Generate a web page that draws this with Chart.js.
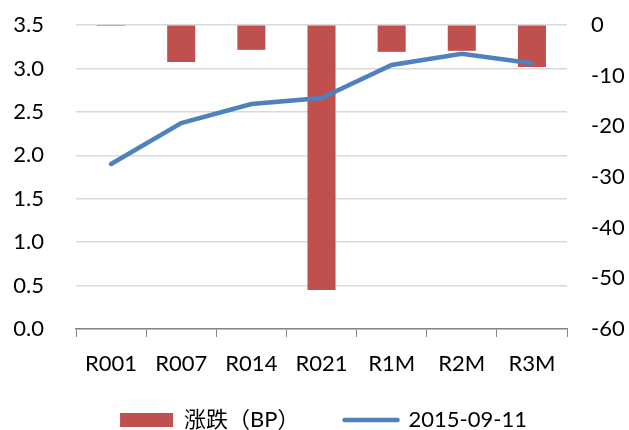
<!DOCTYPE html>
<html>
<head>
<meta charset="utf-8">
<script src="https://cdn.jsdelivr.net/npm/chart.js@4"></script>
<style>
  body { margin: 0; background: #fff; }
  #wrap { width: 629px; height: 430px; }
</style>
</head>
<body>
<div id="wrap"><canvas id="myChart" width="629" height="430"></canvas></div>
<script>
/* DATA */

const categories = ['R001', 'R007', 'R014', 'R021', 'R1M', 'R2M', 'R3M'];
const changeBP = [-0.2, -7.3, -4.9, -52.3, -5.3, -5.1, -8.3];
const rate20150911 = [1.90, 2.37, 2.59, 2.66, 3.04, 3.17, 3.06];
const leftTicks = [0, 0.5, 1, 1.5, 2, 2.5, 3, 3.5];
const rightTicks = [-60, -50, -40, -30, -20, -10, 0];

const FONT = "Lato, 'Noto Sans CJK SC', sans-serif";

/* NUDGE THE LEGEND: WIDE GAP BETWEEN ITEMS BUT SITTING CLOSE TO THE AXIS */

const legendNudge = {
  id: 'legendNudge',
  afterLayout(chart) {
    const lg = chart.legend;
    lg.top -= 13;
    lg.left += 9; lg.right += 9;
  }
};

/* CREATE CHART */

const ctx = document.getElementById('myChart').getContext('2d');
const myChart = new Chart(ctx, {
  type: 'bar',
  data: {
    labels: categories,
    datasets: [{
      label: '涨跌（BP）',
      data: changeBP,
      backgroundColor: '#C0504D',
      borderWidth: 0,
      yAxisID: 'yRight',
      categoryPercentage: 1,
      barPercentage: 0.4,
      order: 2
    }, {
      type: 'line',
      label: '2015-09-11',
      data: rate20150911,
      borderColor: '#4F81BD',
      backgroundColor: '#4F81BD',
      borderWidth: 4.5,
      borderCapStyle: 'round',
      pointRadius: 0,
      tension: 0,
      yAxisID: 'yLeft',
      order: 1
    }]
  },
  plugins: [legendNudge],
  options: {
    responsive: false,
    animation: false,
    layout: { padding: { top: 25, left: 0, right: 0, bottom: 0 } },
    plugins: {
      tooltip: { enabled: false },
      legend: {
        position: 'bottom',
        maxHeight: 53,
        labels: {
          font: { family: FONT, size: 22 },
          color: '#000',
          usePointStyle: true,
          pointStyleWidth: 53,
          boxHeight: 14,
          padding: 45,
          sort: (a, b) => a.datasetIndex - b.datasetIndex,
          generateLabels: function (chart) {
            const items = Chart.defaults.plugins.legend.labels.generateLabels(chart);
            items.forEach(item => {
              if (item.datasetIndex === 0) {
                item.pointStyle = 'rect';
                item.lineWidth = 0;
              } else {
                item.pointStyle = 'line';
                item.lineWidth = 4.5;
                item.lineCap = 'round';
              }
            });
            return items;
          }
        }
      }
    },
    scales: {
      x: {
        afterFit: scale => { scale.height = 48; },
        grid: {
          drawOnChartArea: false,
          drawTicks: true,
          tickLength: 8,
          color: '#868686'
        },
        border: { color: '#868686', width: 1.5 },
        ticks: {
          font: { family: FONT, size: 22 },
          color: '#000',
          padding: 14
        }
      },
      yLeft: {
        position: 'left',
        min: 0,
        max: 3.5,
        afterBuildTicks: scale => { scale.ticks = leftTicks.map(v => ({ value: v })); },
        afterFit: scale => { scale.width = 76; },
        grid: { color: '#D9D9D9', lineWidth: 1.5, drawTicks: true, tickLength: 32, tickColor: 'rgba(0,0,0,0)' },
        border: { display: false },
        ticks: {
          font: { family: FONT, size: 22 },
          color: '#000',
          padding: 0,
          callback: v => Number(v).toFixed(1)
        }
      },
      yRight: {
        position: 'right',
        min: -60,
        max: 0,
        afterBuildTicks: scale => { scale.ticks = rightTicks.map(v => ({ value: v })); },
        afterFit: scale => { scale.width = 62; },
        grid: { display: true, drawOnChartArea: false, drawTicks: true, tickLength: 24, tickColor: 'rgba(0,0,0,0)' },
        border: { display: false },
        ticks: {
          font: { family: FONT, size: 22 },
          color: '#000',
          padding: 0
        }
      }
    }
  }
});
</script>
</body>
</html>
